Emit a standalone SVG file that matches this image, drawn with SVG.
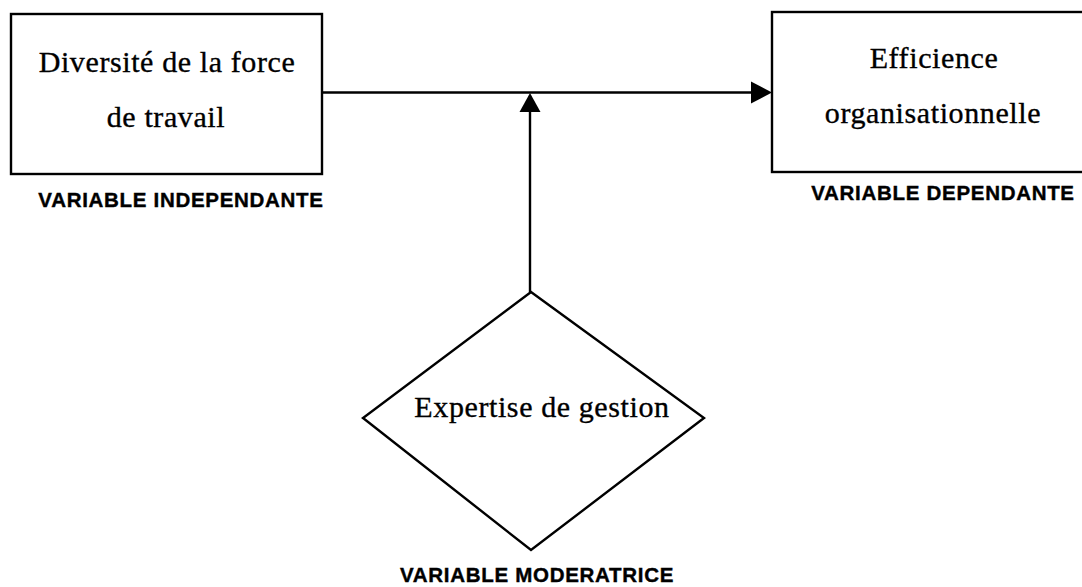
<svg xmlns="http://www.w3.org/2000/svg" width="1082" height="587" viewBox="0 0 1082 587">
  <style>
    .box { fill: #fff; stroke: #000; stroke-width: 2.4; }
    .node-text { font-family: "Liberation Serif", "Times New Roman", serif; font-size: 30px; letter-spacing: 0.6px; fill: #000; stroke: #000; stroke-width: 0.35; text-anchor: middle; }
    .label { font-family: "Liberation Sans", Arial, sans-serif; font-weight: bold; font-size: 20.5px; letter-spacing: 0.7px; fill: #000; stroke: #000; stroke-width: 0.4; text-anchor: middle; }
    .conn { stroke: #000; stroke-width: 2.4; fill: none; }
    .head { fill: #000; stroke: none; }
  </style>
  <rect width="1082" height="587" fill="#fff"/>

  <g id="independent">
    <rect class="box" x="11" y="14" width="311" height="160"/>
    <text class="node-text" x="167" y="72">Diversité de la force</text>
    <text class="node-text" x="166" y="127">de travail</text>
    <text class="label" x="181" y="207">VARIABLE INDEPENDANTE</text>
  </g>

  <g id="dependent">
    <rect class="box" x="772" y="12" width="320" height="160"/>
    <text class="node-text" x="934" y="68">Efficience</text>
    <text class="node-text" x="933" y="123">organisationnelle</text>
    <text class="label" x="943" y="200">VARIABLE DEPENDANTE</text>
  </g>

  <g id="moderator">
    <polygon class="box" points="531,292 704,418 531,550 363,418"/>
    <text class="node-text" x="542" y="417">Expertise de gestion</text>
    <text class="label" x="537" y="582">VARIABLE MODERATRICE</text>
  </g>

  <g id="connectors">
    <line class="conn" x1="322" y1="92.5" x2="752" y2="92.5"/>
    <polygon class="head" points="772,92.5 751,81.5 751,103.5"/>
    <line class="conn" x1="530" y1="292" x2="530" y2="110"/>
    <polygon class="head" points="530,93 519.5,112 540.5,112"/>
  </g>
</svg>
